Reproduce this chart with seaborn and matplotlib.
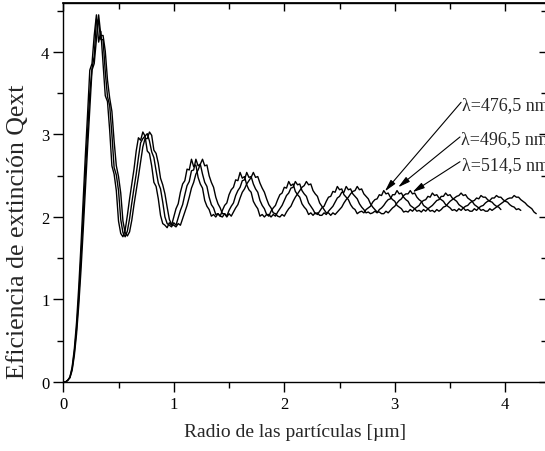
import numpy as np
import pandas as pd
import matplotlib
matplotlib.use('Agg')
import matplotlib.pyplot as plt
from matplotlib.ticker import MultipleLocator
import seaborn as sns

# muestreo en radio de las particulas [um]
paso_radio = 0.02

# Qext, lambda = 476,5 nm
q_476 = [0.00, 0.00, 0.02, 0.06, 0.18, 0.40, 0.72, 1.15, 1.65, 2.20,
         2.75, 3.25, 3.78, 3.86, 4.20, 4.45, 4.12, 4.25, 3.85, 3.47,
         3.40, 3.05, 2.62, 2.52, 2.32, 1.95, 1.80, 1.76, 1.84, 2.02,
         2.22, 2.40, 2.58, 2.80, 2.96, 2.93, 3.03, 2.98, 2.80, 2.77,
         2.62, 2.42, 2.37, 2.22, 2.02, 1.92, 1.90, 1.87, 1.93, 1.90,
         2.00, 2.10, 2.16, 2.30, 2.40, 2.44, 2.58, 2.57, 2.70, 2.61,
         2.63, 2.48, 2.40, 2.35, 2.20, 2.13, 2.09, 2.01, 2.03, 2.00,
         2.04, 2.01, 2.08, 2.14, 2.17, 2.27, 2.33, 2.36, 2.45, 2.44,
         2.54, 2.47, 2.49, 2.39, 2.33, 2.30, 2.19, 2.14, 2.10, 2.01,
         2.03, 2.00, 2.03, 2.01, 2.07, 2.11, 2.14, 2.21, 2.27, 2.29,
         2.36, 2.35, 2.43, 2.38, 2.40, 2.31, 2.27, 2.24, 2.16, 2.12,
         2.09, 2.03, 2.05, 2.02, 2.05, 2.03, 2.07, 2.11, 2.13, 2.19,
         2.24, 2.25, 2.31, 2.30, 2.37, 2.33, 2.34, 2.27, 2.24, 2.21,
         2.15, 2.11, 2.09, 2.04, 2.06, 2.07, 2.05, 2.09, 2.11, 2.13,
         2.18, 2.21, 2.22, 2.27, 2.26, 2.32, 2.28, 2.29, 2.24, 2.21,
         2.19, 2.14, 2.12, 2.10, 2.06, 2.07, 2.06, 2.09, 2.07, 2.10,
         2.12, 2.14, 2.18, 2.20, 2.21, 2.25, 2.24, 2.29, 2.26, 2.27,
         2.23, 2.21, 2.19, 2.15, 2.13, 2.11, 2.08, 2.09, 2.07, 2.10,
         2.08, 2.11, 2.13, 2.14, 2.17, 2.19, 2.20, 2.23, 2.22, 2.26,
         2.24, 2.24, 2.21, 2.19, 2.18, 2.15, 2.13, 2.12, 2.09]

# lambda = 496,5 nm
q_496 = [0.00, 0.00, 0.02, 0.055, 0.16, 0.36, 0.64, 1.02, 1.50, 2.00,
         2.53, 3.03, 3.50, 3.80, 3.95, 4.40, 4.35, 4.15, 4.15, 3.76,
         3.46, 3.35, 3.00, 2.60, 2.51, 2.32, 1.97, 1.81, 1.76, 1.83,
         1.98, 2.17, 2.35, 2.52, 2.72, 2.90, 2.95, 2.98, 3.01, 2.92,
         2.79, 2.72, 2.56, 2.41, 2.34, 2.18, 2.00, 1.92, 1.90, 1.88,
         1.93, 1.90, 1.99, 2.08, 2.15, 2.27, 2.38, 2.43, 2.56, 2.57,
         2.70, 2.62, 2.64, 2.52, 2.42, 2.37, 2.24, 2.15, 2.11, 2.03,
         2.04, 2.01, 2.00, 2.04, 2.01, 2.08, 2.13, 2.17, 2.26, 2.32,
         2.36, 2.44, 2.45, 2.54, 2.48, 2.49, 2.40, 2.34, 2.30, 2.20,
         2.14, 2.10, 2.03, 2.03, 2.00, 2.03, 2.01, 2.06, 2.10, 2.14,
         2.20, 2.26, 2.29, 2.35, 2.36, 2.43, 2.39, 2.40, 2.32, 2.28,
         2.25, 2.17, 2.13, 2.09, 2.04, 2.05, 2.02, 2.02, 2.05, 2.03,
         2.07, 2.10, 2.13, 2.18, 2.23, 2.25, 2.30, 2.30, 2.37, 2.33,
         2.34, 2.28, 2.25, 2.22, 2.16, 2.12, 2.09, 2.05, 2.06, 2.04,
         2.05, 2.07, 2.05, 2.09, 2.11, 2.14, 2.18, 2.21, 2.22, 2.27,
         2.27, 2.32, 2.28, 2.29, 2.24, 2.21, 2.19, 2.14, 2.12, 2.10,
         2.07, 2.08, 2.06, 2.09, 2.07, 2.10, 2.12, 2.14, 2.17, 2.20,
         2.21, 2.25, 2.25, 2.29, 2.26, 2.27, 2.23, 2.21, 2.19, 2.15,
         2.13, 2.11, 2.08, 2.09, 2.07, 2.07, 2.10, 2.08, 2.11, 2.13,
         2.14, 2.17, 2.19, 2.20, 2.23, 2.23, 2.26, 2.24, 2.24, 2.21,
         2.19, 2.18, 2.15, 2.13, 2.12, 2.09, 2.10, 2.08]

# lambda = 514,5 nm
q_514 = [0.00, 0.00, 0.02, 0.05, 0.14, 0.32, 0.58, 0.93, 1.35, 1.83,
         2.34, 2.84, 3.30, 3.78, 3.86, 4.16, 4.45, 4.20, 4.20, 4.01,
         3.66, 3.44, 3.28, 2.92, 2.62, 2.49, 2.29, 1.95, 1.81, 1.77,
         1.82, 1.96, 2.15, 2.32, 2.49, 2.67, 2.85, 2.95, 2.95, 3.03,
         2.99, 2.81, 2.77, 2.65, 2.47, 2.39, 2.28, 2.12, 1.97, 1.91,
         1.90, 1.88, 1.92, 1.90, 1.98, 2.06, 2.14, 2.24, 2.35, 2.42,
         2.52, 2.57, 2.64, 2.70, 2.62, 2.63, 2.50, 2.42, 2.36, 2.24,
         2.16, 2.11, 2.04, 2.04, 2.00, 2.04, 2.01, 2.06, 2.11, 2.15,
         2.23, 2.30, 2.34, 2.40, 2.44, 2.48, 2.54, 2.48, 2.49, 2.41,
         2.35, 2.30, 2.22, 2.15, 2.11, 2.05, 2.04, 2.01, 2.00, 2.03,
         2.01, 2.06, 2.10, 2.13, 2.19, 2.24, 2.28, 2.32, 2.36, 2.38,
         2.43, 2.39, 2.40, 2.32, 2.28, 2.25, 2.17, 2.13, 2.09, 2.05,
         2.05, 2.02, 2.05, 2.03, 2.06, 2.09, 2.12, 2.17, 2.21, 2.24,
         2.28, 2.31, 2.32, 2.37, 2.33, 2.34, 2.28, 2.25, 2.22, 2.16,
         2.12, 2.09, 2.06, 2.06, 2.04, 2.04, 2.07, 2.05, 2.08, 2.11,
         2.13, 2.17, 2.20, 2.22, 2.26, 2.28, 2.28, 2.32, 2.28, 2.29,
         2.24, 2.21, 2.19, 2.14, 2.12, 2.10, 2.07, 2.08, 2.06, 2.09,
         2.07, 2.09, 2.12, 2.13, 2.16, 2.19, 2.21, 2.23, 2.25, 2.26,
         2.29, 2.26, 2.27, 2.23, 2.21, 2.19, 2.15, 2.13, 2.11, 2.08,
         2.09, 2.07, 2.07, 2.10, 2.08, 2.10, 2.12, 2.14, 2.16, 2.18,
         2.20, 2.22, 2.23, 2.23, 2.26, 2.24, 2.24, 2.21, 2.19, 2.17,
         2.14, 2.12, 2.10, 2.06, 2.04]

etiquetas = ['λ=476,5 nm', 'λ=496,5 nm', 'λ=514,5 nm']

frames = []
for etiqueta, q in zip(etiquetas, [q_476, q_496, q_514]):
    radio = np.round(np.arange(len(q)) * paso_radio, 2)
    frames.append(pd.DataFrame({'radio': radio, 'qext': q, 'serie': etiqueta}))
df = pd.concat(frames, ignore_index=True)

sns.set_theme(style='ticks')
plt.rcParams['font.family'] = ['Liberation Serif', 'DejaVu Serif']
plt.rcParams['axes.edgecolor'] = 'black'
plt.rcParams['xtick.color'] = 'black'
plt.rcParams['ytick.color'] = 'black'

fig = plt.figure(figsize=(5.45, 4.52), dpi=100)
ax = fig.add_axes([0.1161, 0.1527, 0.8875, 0.8385])

sns.lineplot(data=df, x='radio', y='qext', hue='serie', palette=['black'] * 3,
             estimator=None, sort=False, legend=False, linewidth=1.0, ax=ax)

ax.set_xlim(0, 4.377)
ax.set_ylim(0, 4.594)
ax.xaxis.set_major_locator(MultipleLocator(1))
ax.xaxis.set_minor_locator(MultipleLocator(0.5))
ax.yaxis.set_major_locator(MultipleLocator(1))
ax.yaxis.set_minor_locator(MultipleLocator(0.5))
ax.tick_params(which='major', direction='out', length=7, width=1.0, labelsize=12, pad=3)
ax.tick_params(which='minor', direction='out', length=4, width=1.0)
for s in ax.spines.values():
    s.set_linewidth(1.0)
    s.set_visible(True)

# ejes espejo arriba y a la derecha, marcas hacia dentro
top = ax.secondary_xaxis('top')
top.xaxis.set_major_locator(MultipleLocator(1))
top.xaxis.set_minor_locator(MultipleLocator(0.5))
top.tick_params(which='major', direction='in', length=6, width=1.0, labeltop=False)
top.tick_params(which='minor', direction='in', length=4, width=1.0)
right = ax.secondary_yaxis('right')
right.yaxis.set_major_locator(MultipleLocator(1))
right.yaxis.set_minor_locator(MultipleLocator(0.5))
right.tick_params(which='major', direction='in', length=6, width=1.0, labelright=False)
right.tick_params(which='minor', direction='in', length=4, width=1.0)

ax.set_xlabel('Radio de las partículas [µm]', fontsize=14)
ax.set_ylabel('Eficiencia de extinción Qext', fontsize=18.5)
ax.xaxis.set_label_coords(0.479, -0.108)
ax.yaxis.set_label_coords(-0.07, 0.40)

# rotulos con flechas
pos_texto = [(3.61, 3.36), (3.60, 2.95), (3.61, 2.63)]
colas = [(3.60, 3.39), (3.59, 2.97), (3.59, 2.67)]
puntas = [(2.91, 2.31), (3.03, 2.36), (3.16, 2.30)]
for etiqueta, pt, cola, punta in zip(etiquetas, pos_texto, colas, puntas):
    ax.text(pt[0], pt[1], etiqueta, fontsize=13, ha='left', va='center', clip_on=False)
    ax.annotate('', xy=punta, xytext=cola,
                arrowprops=dict(arrowstyle='-|>,head_width=0.15,head_length=0.6',
                                color='black', lw=0.8, shrinkA=0, shrinkB=0))

fig.savefig('out.png', dpi=100)
